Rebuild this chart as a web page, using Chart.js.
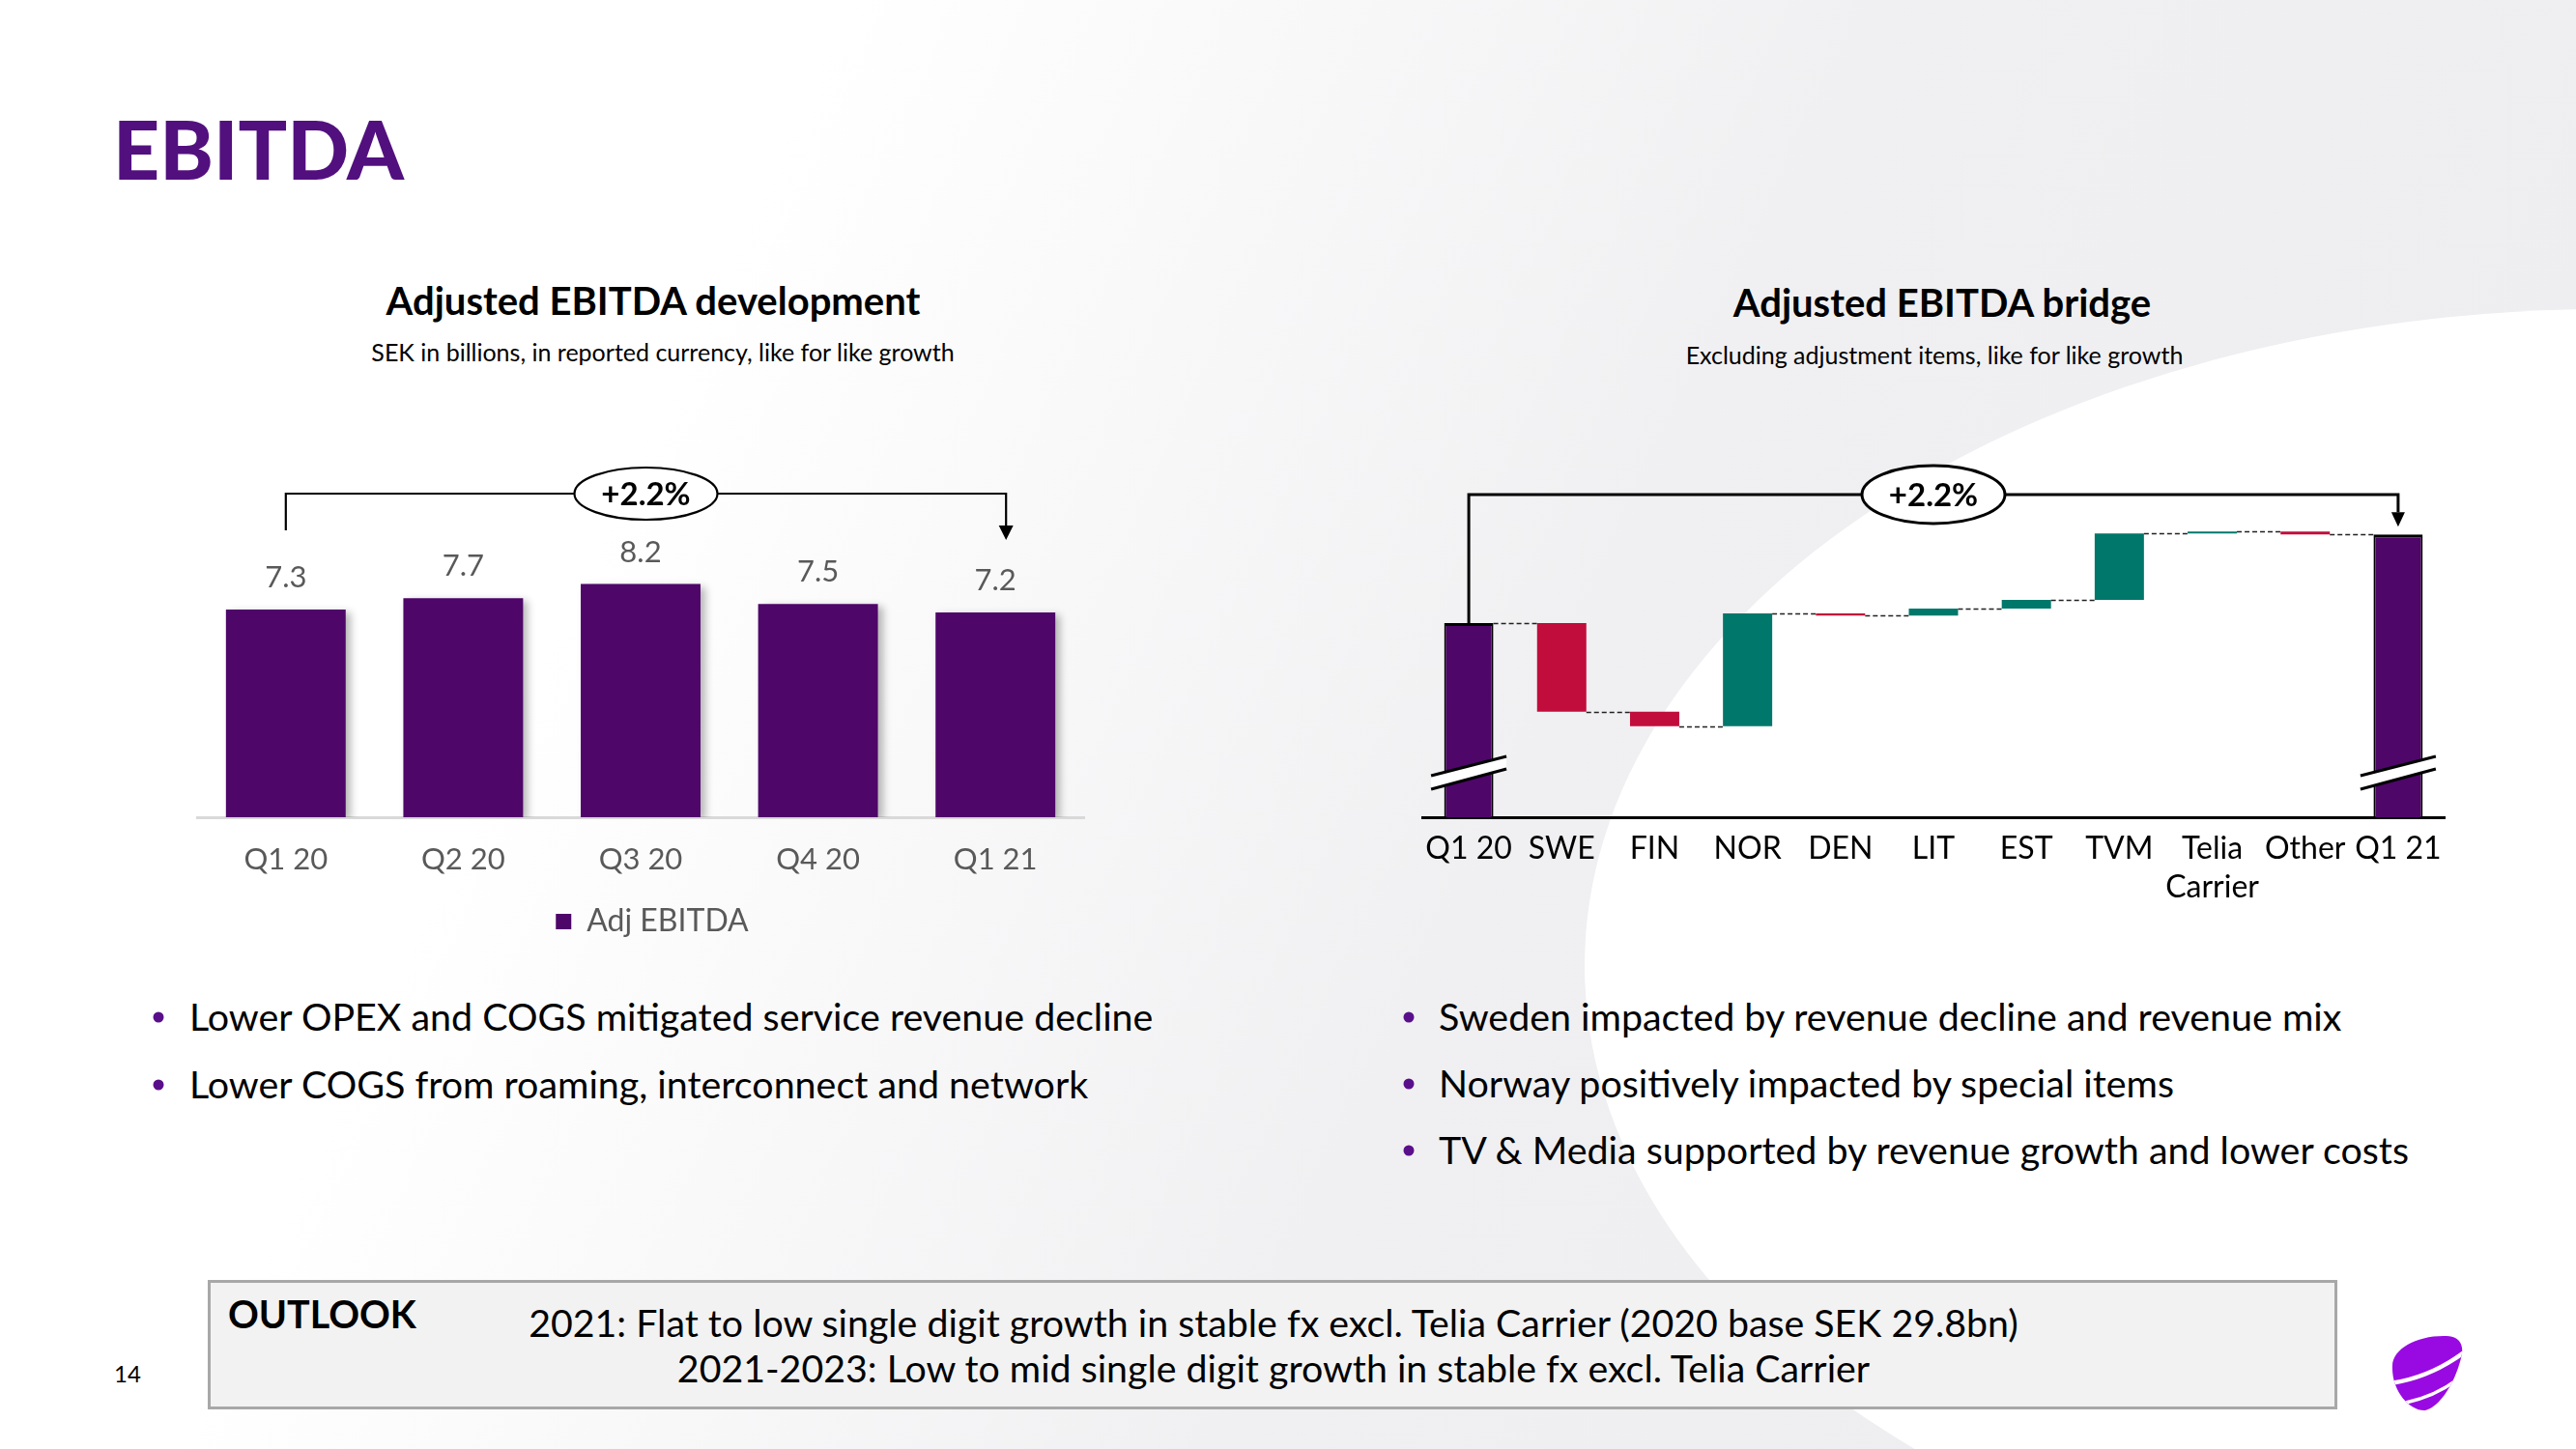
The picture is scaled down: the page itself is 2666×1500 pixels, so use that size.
<!DOCTYPE html>
<html lang="en">
<head>
<meta charset="UTF-8">
<title>EBITDA</title>
<script src="https://cdn.jsdelivr.net/npm/chart.js@4.4.1/dist/chart.umd.min.js"></script>
<style>
  body {
    margin: 0; width: 2666px; height: 1500px; position: relative; overflow: hidden;
    font-family: Lato, "Noto Sans", sans-serif; color: #000;
    background: linear-gradient(115deg, #ffffff 0%, #ffffff 26%, #f0f0f2 58%, #ededf0 100%);
  }
  .abs { position: absolute; white-space: nowrap; line-height: 1.2; }
  .c { transform: translate(-50%, -50%); }
  .m { transform: translateY(-50%); }
  .dot { position: absolute; width: 11px; height: 11px; border-radius: 50%; background: #5a0f8a; transform: translate(-50%, -50%); }
  canvas { position: absolute; }
</style>
</head>
<body>
  <!-- white swoosh on the right -->
  <svg class="abs" style="left:0;top:0" width="2666" height="1500">
    <ellipse cx="2700" cy="1000" rx="1060" ry="680" fill="#ffffff"/>
  </svg>

  <div class="abs m" style="left:117px;top:154px;font-size:84px;font-weight:900;color:#52107f;">EBITDA</div>

  <div class="abs c" style="left:676px;top:311px;font-size:40px;font-weight:700;">Adjusted EBITDA development</div>
  <div class="abs c" style="left:686px;top:364px;font-size:25px;">SEK in billions, in reported currency, like for like growth</div>

  <div class="abs c" style="left:2010px;top:313px;font-size:40px;font-weight:700;">Adjusted EBITDA bridge</div>
  <div class="abs c" style="left:2002px;top:367px;font-size:25px;">Excluding adjustment items, like for like growth</div>

  <canvas id="devChart" width="1010" height="540" style="left:170px;top:440px;"></canvas>
  <canvas id="bridgeChart" width="1110" height="520" style="left:1440px;top:440px;"></canvas>

  <!-- bullets -->
  <span class="dot" style="left:164px;top:1053px;"></span>
  <div class="abs m" style="left:196px;top:1052px;font-size:39.4px;">Lower OPEX and COGS mitigated service revenue decline</div>
  <span class="dot" style="left:164px;top:1123px;"></span>
  <div class="abs m" style="left:196px;top:1122px;font-size:39.4px;">Lower COGS from roaming, interconnect and network</div>

  <span class="dot" style="left:1458px;top:1053px;"></span>
  <div class="abs m" style="left:1489px;top:1052px;font-size:39.4px;">Sweden impacted by revenue decline and revenue mix</div>
  <span class="dot" style="left:1458px;top:1122px;"></span>
  <div class="abs m" style="left:1489px;top:1121px;font-size:39.4px;">Norway positively impacted by special items</div>
  <span class="dot" style="left:1458px;top:1191px;"></span>
  <div class="abs m" style="left:1489px;top:1190px;font-size:39.4px;">TV &amp; Media supported by revenue growth and lower costs</div>

  <!-- outlook box -->
  <div class="abs" style="left:215px;top:1325px;width:2198px;height:128px;background:#f2f2f2;border:3px solid #a8a8a8;"></div>
  <div class="abs m" style="left:236px;top:1360px;font-size:39.4px;font-weight:700;">OUTLOOK</div>
  <div class="abs c" style="left:1318px;top:1369px;font-size:39.3px;">2021: Flat to low single digit growth in stable fx excl. Telia Carrier (2020 base SEK 29.8bn)</div>
  <div class="abs c" style="left:1318px;top:1416px;font-size:39.3px;">2021-2023: Low to mid single digit growth in stable fx excl. Telia Carrier</div>

  <div class="abs c" style="left:132px;top:1422px;font-size:24px;">14</div>

  <!-- logo -->
  <svg class="abs" style="left:2440px;top:1360px" width="140" height="120" viewBox="0 0 140 120">
    <defs>
      <clipPath id="egg">
        <path d="M36,54 C36,36 62,22 92,23 C105,23 111,32 107,46 C101,70 86,96 70,100 C54,101 35,80 36,54 Z"/>
      </clipPath>
    </defs>
    <path d="M36,54 C36,36 62,22 92,23 C105,23 111,32 107,46 C101,70 86,96 70,100 C54,101 35,80 36,54 Z" fill="#990ae3"/>
    <g clip-path="url(#egg)" fill="none" stroke="#fff">
      <path d="M34,72 Q75,66 110,40" stroke-width="4.5"/>
      <path d="M50,92 Q85,84 108,64" stroke-width="3.5"/>
    </g>
  </svg>

<script>
  // left chart: Adjusted EBITDA development, SEK bn
  const devLabels = ['Q1 20', 'Q2 20', 'Q3 20', 'Q4 20', 'Q1 21'];
  const devValues = [7.3, 7.7, 8.2, 7.5, 7.2];
  const devSeries = 'Adj EBITDA';
  const growthText = '+2.2%';

  // right chart: Adjusted EBITDA bridge, MSEK
  const bridgeLabels = ['Q1 20', 'SWE', 'FIN', 'NOR', 'DEN', 'LIT', 'EST', 'TVM', ['Telia', 'Carrier'], 'Other', 'Q1 21'];
  const bridgeStart = 7035;
  const bridgeDeltas = [-153, -25, 195, -4, 12, 15, 115, 3, -5];
  const bridgeEnd = 7188;
  const bridgeAxisMin = 6700;
  const bridgeAxisMax = 7377;

  const purple = '#4e0669';
  const red = '#c10d3c';
  const green = '#00776b';

  Chart.defaults.font.family = 'Lato, "Noto Sans", sans-serif';

  function drawBracket(ctx, x1, x2, y, leftEnd, tip, lw, rx, ry, aw, ah) {
    ctx.save();
    ctx.strokeStyle = '#000';
    ctx.lineWidth = lw;
    ctx.beginPath();
    ctx.moveTo(x1, leftEnd);
    ctx.lineTo(x1, y);
    ctx.lineTo(x2, y);
    ctx.lineTo(x2, tip - ah);
    ctx.stroke();
    ctx.fillStyle = '#000';
    ctx.beginPath();
    ctx.moveTo(x2 - aw / 2, tip - ah);
    ctx.lineTo(x2 + aw / 2, tip - ah);
    ctx.lineTo(x2, tip);
    ctx.closePath();
    ctx.fill();
    const cx = (x1 + x2) / 2;
    ctx.beginPath();
    ctx.ellipse(cx, y, rx, ry, 0, 0, Math.PI * 2);
    ctx.fillStyle = '#fff';
    ctx.fill();
    ctx.stroke();
    ctx.fillStyle = '#000';
    ctx.font = 'bold 33px Lato, "Noto Sans", sans-serif';
    ctx.textAlign = 'center';
    ctx.textBaseline = 'middle';
    ctx.fillText(growthText, cx, y + 1);
    ctx.restore();
  }

  const shadowPlugin = {
    id: 'barShadow',
    beforeDatasetsDraw(chart) {
      const ctx = chart.ctx;
      ctx.save();
      ctx.shadowColor = 'rgba(0,0,0,0.28)';
      ctx.shadowBlur = 8;
      ctx.shadowOffsetX = 5;
      ctx.shadowOffsetY = 3;
    },
    afterDatasetsDraw(chart) {
      chart.ctx.restore();
    }
  };

  const devExtras = {
    id: 'devExtras',
    afterDraw(chart) {
      const ctx = chart.ctx;
      const bars = chart.getDatasetMeta(0).data;
      ctx.save();
      ctx.fillStyle = '#595959';
      ctx.font = '31px Lato, "Noto Sans", sans-serif';
      ctx.textAlign = 'center';
      ctx.textBaseline = 'middle';
      bars.forEach((b, i) => ctx.fillText(devValues[i].toFixed(1), b.x, b.y - 33));
      ctx.restore();
      const top = chart.chartArea.top;
      drawBracket(ctx, bars[0].x, bars[bars.length - 1].x + 11, top + 71, top + 109, top + 119, 2.2, 74, 27, 15, 15);
    }
  };

  new Chart(document.getElementById('devChart'), {
    type: 'bar',
    data: {
      labels: devLabels,
      datasets: [{
        label: devSeries,
        data: devValues,
        backgroundColor: purple,
        barPercentage: 0.675,
        categoryPercentage: 1
      }]
    },
    options: {
      responsive: false,
      animation: false,
      devicePixelRatio: 1,
      layout: { padding: { left: 34, right: 34, top: 0, bottom: 0 } },
      scales: {
        x: {
          grid: { display: false, drawTicks: false },
          border: { display: true, color: '#d9d9d9', width: 3 },
          ticks: { color: '#595959', font: { size: 31 }, padding: 25, autoSkip: false, maxRotation: 0, minRotation: 0 },
          afterFit: s => { s.height = 76; }
        },
        y: {
          position: 'right', min: 0, max: 13.79,
          ticks: { display: false }, grid: { display: false }, border: { display: false },
          afterFit: s => { s.width = 24; }
        }
      },
      plugins: {
        legend: {
          position: 'bottom',
          labels: { color: '#595959', font: { size: 32 }, usePointStyle: true, pointStyle: 'rect', boxWidth: 16, boxHeight: 16, padding: 16 }
        },
        tooltip: { enabled: false }
      }
    },
    plugins: [shadowPlugin, devExtras]
  });

  // floating bars for the waterfall
  const bridgeFloats = [[bridgeAxisMin, bridgeStart]];
  let level = bridgeStart;
  bridgeDeltas.forEach(d => { bridgeFloats.push([level, level + d]); level += d; });
  bridgeFloats.push([bridgeAxisMin, bridgeEnd]);
  const lastIdx = bridgeFloats.length - 1;
  const isTotal = i => i === 0 || i === lastIdx;

  const bridgeExtras = {
    id: 'bridgeExtras',
    afterDatasetsDraw(chart) {
      const ctx = chart.ctx;
      const y = chart.scales.y;
      const bars = chart.getDatasetMeta(0).data;
      // dashed connectors
      ctx.save();
      ctx.strokeStyle = '#222';
      ctx.lineWidth = 1.5;
      ctx.setLineDash([5, 3]);
      for (let i = 0; i < lastIdx; i++) {
        const py = Math.round(y.getPixelForValue(bridgeFloats[i][1])) + 0.5;
        ctx.beginPath();
        ctx.moveTo(bars[i].x + bars[i].width / 2, py);
        ctx.lineTo(bars[i + 1].x - bars[i + 1].width / 2, py);
        ctx.stroke();
      }
      ctx.restore();
      // axis breaks on the totals
      const base = chart.chartArea.bottom;
      [0, lastIdx].forEach(i => {
        const x = bars[i].x;
        ctx.save();
        ctx.fillStyle = '#fff';
        ctx.beginPath();
        ctx.moveTo(x - 39, base - 43);
        ctx.lineTo(x + 39, base - 63);
        ctx.lineTo(x + 39, base - 50);
        ctx.lineTo(x - 39, base - 29);
        ctx.closePath();
        ctx.fill();
        ctx.strokeStyle = '#000';
        ctx.lineWidth = 3;
        ctx.beginPath();
        ctx.moveTo(x - 39, base - 43);
        ctx.lineTo(x + 39, base - 63);
        ctx.moveTo(x - 39, base - 29);
        ctx.lineTo(x + 39, base - 50);
        ctx.stroke();
        ctx.restore();
      });
      const top = chart.chartArea.top;
      drawBracket(ctx, bars[0].x, bars[lastIdx].x, top + 72, bars[0].y, bars[lastIdx].y - 8, 3, 74, 30, 14, 15);
    }
  };

  new Chart(document.getElementById('bridgeChart'), {
    type: 'bar',
    data: {
      labels: bridgeLabels,
      datasets: [{
        label: 'Adjusted EBITDA bridge',
        data: bridgeFloats,
        backgroundColor: bridgeFloats.map((f, i) => isTotal(i) ? purple : (f[1] < f[0] ? red : green)),
        borderColor: '#000',
        borderWidth: ctx => isTotal(ctx.dataIndex) ? { top: 3, left: 2, right: 2, bottom: 0 } : 0,
        borderSkipped: false,
        barPercentage: 0.53,
        categoryPercentage: 1
      }]
    },
    options: {
      responsive: false,
      animation: false,
      devicePixelRatio: 1,
      layout: { padding: { left: 32, right: 20, top: 0, bottom: 4 } },
      scales: {
        x: {
          grid: { display: false, drawTicks: false },
          border: { display: true, color: '#000', width: 3 },
          ticks: { color: '#000', font: { size: 32, lineHeight: 1.27 }, padding: 12, autoSkip: false, maxRotation: 0, minRotation: 0 },
          afterFit: s => { s.height = 110; }
        },
        y: { display: false, min: bridgeAxisMin, max: bridgeAxisMax }
      },
      plugins: {
        legend: { display: false },
        tooltip: { enabled: false }
      }
    },
    plugins: [bridgeExtras]
  });
</script>
</body>
</html>
